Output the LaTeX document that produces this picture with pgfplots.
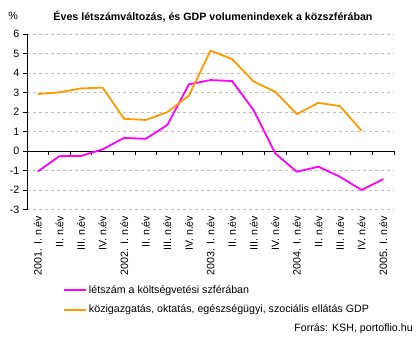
\documentclass[border=0pt]{standalone}
\usepackage{fontspec}
\setmainfont{Liberation Sans}
\usepackage{pgfplots}
\pgfplotsset{compat=1.18}
\definecolor{linemagenta}{RGB}{255,0,255}
\definecolor{lineorange}{RGB}{255,153,0}
\definecolor{gridc}{RGB}{190,190,170}
\newcommand\f{\fontsize{10.67bp}{12.8bp}\selectfont}
\begin{document}
\f
\begin{tikzpicture}
\useasboundingbox (-27bp,-130.5bp) rectangle (393bp,209.5bp);
\begin{axis}[
  at={(0,0)}, anchor=south west,
  scale only axis, width=367bp, height=175.2bp,
  xmin=-0.5, xmax=16.5, ymin=-3, ymax=6,
  axis y line*=left, axis x line*=bottom,
  x axis line style={draw=none},
  y axis line style={black, line width=0.8bp},
  xtick=data,
  xtick style={draw=none},
  xticklabels={2001. I. n.év, II. n.év, III. n.év, IV. n.év, 2002. I. n.év, II. n.év, III. n.év, IV. n.év, 2003. I. n.év, II. n.év, III. n.év, IV. n.év, 2004. I. n.év, II. n.év, III. n.év, IV. n.év, 2005. I. n.év},
  xticklabel style={rotate=90, anchor=east, font=\f, xshift=1.5bp},
  ytick={-3,-2,...,6},
  ytick style={black, line width=0.8bp},
  tick align=outside,
  major tick length=4bp,
  yticklabel style={font=\f},
  /pgf/number format/assume math mode=true,
  ymajorgrids,
  grid style={gridc, dash pattern=on 3bp off 3bp, line width=0.8bp},
  clip=false,
  legend style={at={(0.0981,-0.5165)}, anchor=west, draw=none, fill=none, inner sep=0pt, font=\f, row sep=6bp},
  legend cell align=left,
  legend image code/.code={\draw[#1] (0bp,0bp) -- (22bp,0bp);},
]
\draw[black, line width=0.8bp] (axis cs:-0.5,0) -- (axis cs:16.5,0);
\pgfplotsinvokeforeach{-0.5,0.5,1.5,2.5,3.5,4.5,5.5,6.5,7.5,8.5,9.5,10.5,11.5,12.5,13.5,14.5,15.5,16.5}{
  \draw[black, line width=0.8bp] (axis cs:#1,0) -- ([yshift=-4bp]axis cs:#1,0);
}
\addplot[color=linemagenta, line width=1.8bp] coordinates {(0,-1.05)(1,-0.26)(2,-0.25)(3,0.09)(4,0.68)(5,0.63)(6,1.34)(7,3.43)(8,3.65)(9,3.6)(10,2.1)(11,-0.12)(12,-1.06)(13,-0.8)(14,-1.32)(15,-2.0)(16,-1.44)};
\addlegendentry{létszám a költségvetési szférában}
\addplot[color=lineorange, line width=1.8bp] coordinates {(0,2.93)(1,3.02)(2,3.22)(3,3.26)(4,1.66)(5,1.6)(6,2.0)(7,2.85)(8,5.16)(9,4.73)(10,3.57)(11,3.05)(12,1.9)(13,2.48)(14,2.31)(15,1.04)};
\addlegendentry{közigazgatás, oktatás, egészségügyi, szociális ellátás GDP}
\end{axis}
\node[font=\f\bfseries] at (186bp,192.5bp) {Éves létszámváltozás, és GDP volumenindexek a közszférában};
\node[font=\f] at (-14bp,194bp) {\%};
\node[font=\f, anchor=east] at (389.5bp,-119.5bp) {Forrás: KSH, portoflio.hu};
\end{tikzpicture}
\end{document}
